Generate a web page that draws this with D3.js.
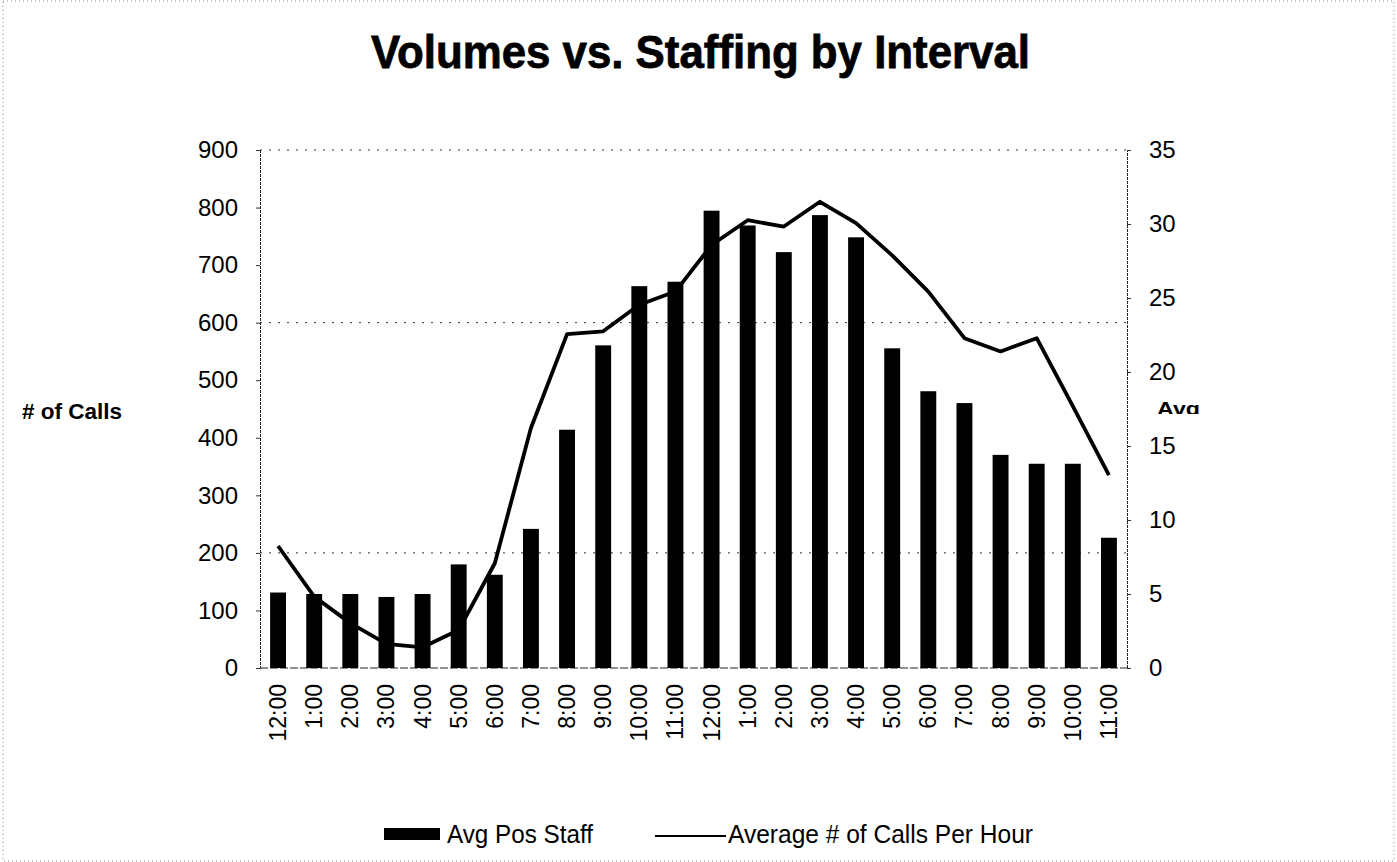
<!DOCTYPE html>
<html>
<head>
<title>Volumes vs. Staffing</title>
<script src="https://d3js.org/d3.v7.min.js" charset="utf-8"></script>
<style>
body { margin: 0; background: white; font-family: "Liberation Sans", Arial, sans-serif; }
.axis text { font-family: "Liberation Sans", Arial, sans-serif; fill: #000; }
</style>
</head>
<body>
<script>
// interval labels (midnight to 11 pm)
var intervals = ["12:00","1:00","2:00","3:00","4:00","5:00","6:00","7:00","8:00","9:00","10:00","11:00",
                 "12:00","1:00","2:00","3:00","4:00","5:00","6:00","7:00","8:00","9:00","10:00","11:00"];
// Avg Pos Staff (bars, right axis)
var staff = [5.1, 5.0, 5.0, 4.8, 5.0, 7.0, 6.3, 9.4, 16.1, 21.8, 25.8, 26.1,
             30.9, 29.9, 28.1, 30.6, 29.1, 21.6, 18.7, 17.9, 14.4, 13.8, 13.8, 8.8];
// Average # of Calls Per Hour (line, left axis)
var calls = [212, 124, 78, 42, 36, 66, 182, 417, 580, 585, 631, 654,
             735, 778, 767, 810, 773, 717, 654, 573, 550, 573, 455, 335];
var leftTicks = [0,100,200,300,400,500,600,700,800,900];
var rightTicks = [0,5,10,15,20,25,30,35];
var gridVals = [200, 600, 900];

var width = 1397, height = 862;
var plotL = 260, plotR = 1127, plotT = 150, plotB = 668;

var svg = d3.select("body").append("svg")
  .attr("width", width).attr("height", height);

// faint scanned page border
svg.append("rect").attr("x", 3).attr("y", 1).attr("width", width - 6).attr("height", height - 2)
  .attr("fill", "none").attr("stroke", "#888").attr("stroke-width", 1).attr("stroke-dasharray", "1,3");

var x = d3.scaleBand().domain(d3.range(intervals.length)).range([plotL, plotR]).paddingInner(0.56).paddingOuter(0.28);
var yL = d3.scaleLinear().domain([0, 900]).range([plotB, plotT]);
var yR = d3.scaleLinear().domain([0, 35]).range([plotB, plotT]);

// title
svg.append("text").attr("x", 371).attr("y", 68)
  .attr("font-size", 47).attr("font-weight", "bold").attr("stroke", "#000").attr("stroke-width", 0.8)
  .attr("textLength", 659).attr("lengthAdjust", "spacingAndGlyphs")
  .text("Volumes vs. Staffing by Interval");

// gridlines
svg.append("g").selectAll("line").data(gridVals).enter().append("line")
  .attr("x1", plotL).attr("x2", plotR)
  .attr("y1", function(d){ return yL(d); }).attr("y2", function(d){ return yL(d); })
  .attr("stroke", "#333").attr("stroke-width", 1).attr("stroke-dasharray", "2,7");

// axes
var gL = svg.append("g").attr("class", "axis").attr("transform", "translate(" + plotL + ",0)")
  .call(d3.axisLeft(yL).tickValues(leftTicks).tickSize(4).tickPadding(18));
var gR = svg.append("g").attr("class", "axis").attr("transform", "translate(" + plotR + ",0)")
  .call(d3.axisRight(yR).tickValues(rightTicks).tickSize(4).tickPadding(18));
[gL, gR].forEach(function(g){
  g.select(".domain").attr("stroke", "#222").attr("stroke-dasharray", "3,1");
  g.selectAll(".tick line").attr("stroke", "#333");
  g.selectAll("text").attr("font-size", 24);
});

// bottom baseline
svg.append("line").attr("x1", plotL).attr("x2", plotR).attr("y1", plotB).attr("y2", plotB)
  .attr("stroke", "#222").attr("stroke-width", 1.2).attr("stroke-dasharray", "8,2");

// x labels
svg.append("g").selectAll("text").data(intervals).enter().append("text")
  .attr("transform", function(d, i){ return "translate(" + (x(i) + x.bandwidth()/2 + 8) + "," + (plotB + 16) + ") rotate(-90)"; })
  .attr("text-anchor", "end").attr("font-size", 23)
  .text(function(d){ return d; });

// bars
svg.append("g").selectAll("rect").data(staff).enter().append("rect")
  .attr("x", function(d, i){ return x(i); })
  .attr("width", x.bandwidth())
  .attr("y", function(d){ return yR(d); })
  .attr("height", function(d){ return plotB - yR(d); })
  .attr("fill", "#000");

// line
var line = d3.line()
  .x(function(d, i){ return x(i) + x.bandwidth()/2; })
  .y(function(d){ return yL(d); });
svg.append("path").datum(calls).attr("d", line)
  .attr("fill", "none").attr("stroke", "#000").attr("stroke-width", 3.8).attr("stroke-linejoin", "round");

// axis titles
svg.append("text").attr("x", 22).attr("y", 419).attr("font-size", 22).attr("font-weight", "bold")
  .attr("textLength", 100).attr("lengthAdjust", "spacingAndGlyphs").text("# of Calls");
svg.append("clipPath").attr("id", "avgclip").append("rect")
  .attr("x", 1150).attr("y", 396).attr("width", 60).attr("height", 18);
svg.append("text").attr("x", 1157).attr("y", 415).attr("font-size", 19).attr("font-weight", "bold")
  .attr("textLength", 43).attr("lengthAdjust", "spacingAndGlyphs")
  .attr("clip-path", "url(#avgclip)").text("Avg");

// legend
svg.append("rect").attr("x", 384).attr("y", 828).attr("width", 56).attr("height", 12).attr("fill", "#000");
svg.append("text").attr("x", 447).attr("y", 843).attr("font-size", 25)
  .attr("textLength", 146).attr("lengthAdjust", "spacingAndGlyphs").text("Avg Pos Staff");
svg.append("line").attr("x1", 655).attr("x2", 726).attr("y1", 836).attr("y2", 836)
  .attr("stroke", "#000").attr("stroke-width", 2);
svg.append("text").attr("x", 728).attr("y", 843).attr("font-size", 25)
  .attr("textLength", 305).attr("lengthAdjust", "spacingAndGlyphs").text("Average # of Calls Per Hour");
</script>
</body>
</html>
